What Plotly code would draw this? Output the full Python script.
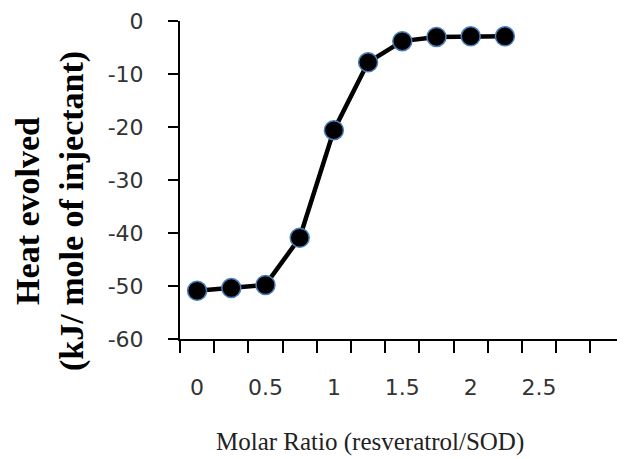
import plotly.graph_objects as go

molar_ratio = [0, 0.25, 0.5, 0.75, 1.0, 1.25, 1.5, 1.75, 2.0, 2.25]
heat_evolved = [-50.9, -50.4, -49.8, -40.9, -20.6, -7.8, -3.8, -3.0, -2.9, -2.9]
x_tick_labels = ["0", "0.5", "1", "1.5", "2", "2.5"]
x_tick_values = [0, 0.5, 1.0, 1.5, 2.0, 2.5]
x_boundary_ticks = [-0.125 + 0.25 * k for k in range(14)]
y_tick_values = [0, -10, -20, -30, -40, -50, -60]
y_tick_labels = ["0", "-10", "-20", "-30", "-40", "-50", "-60"]

fig = go.Figure()
fig.add_trace(go.Scatter(
    x=molar_ratio, y=heat_evolved, mode="lines+markers",
    line=dict(color="black", width=4.5),
    marker=dict(size=19, color="black", line=dict(color="#4a7ebb", width=1.5)),
    showlegend=False, cliponaxis=False,
))
# invisible trace to anchor xaxis2
fig.add_trace(go.Scatter(x=[0], y=[0], xaxis="x2", mode="markers",
                         marker=dict(opacity=0), showlegend=False, hoverinfo="skip"))

# page body has an 8px margin; plot area spans screen x 180..625, y 21..339
OFF = 8
L, T, B, R = 180 - OFF, 21 - OFF, 459 + OFF - 339, OFF
pw = 625 - 180
ph = 339 - 21

xr = [-0.125, 3.128]
fig.update_layout(
    width=625, height=459,
    margin=dict(l=L, r=R, t=T, b=B, autoexpand=False),
    paper_bgcolor="white", plot_bgcolor="white",
    xaxis=dict(range=xr, tickvals=x_boundary_ticks, ticktext=[""] * len(x_boundary_ticks),
               ticks="outside", ticklen=12, tickwidth=2, tickcolor="black",
               showline=True, linecolor="black", linewidth=2,
               showgrid=False, zeroline=False),
    xaxis2=dict(range=xr, overlaying="x", side="bottom", anchor="y",
                tickvals=x_tick_values, ticktext=x_tick_labels,
                ticks="outside", ticklen=29, tickcolor="rgba(0,0,0,0)",
                tickfont=dict(family="DejaVu Sans", size=22, color="#333333"),
                showline=False, showgrid=False, zeroline=False),
    yaxis=dict(range=[-60, 0], tickvals=y_tick_values, ticktext=y_tick_labels,
               ticks="outside", ticklen=10, tickwidth=2, tickcolor="black",
               showline=True, linecolor="black", linewidth=2,
               showgrid=False, zeroline=False, ticklabelstandoff=20,
               tickfont=dict(family="DejaVu Sans", size=22, color="#333333")),
    annotations=[
        dict(text="<b>Heat evolved<br>(kJ/ mole of injectant)</b>", textangle=-90,
             xref="paper", yref="paper", x=(50 - 180) / pw, y=(339 - 211) / ph,
             xanchor="center", yanchor="middle", showarrow=False,
             font=dict(family="Liberation Serif", size=34, color="black")),
        dict(text="Molar Ratio (resveratrol/SOD)",
             xref="paper", yref="paper", x=(370 - 180) / pw, y=(339 - 442) / ph,
             xanchor="center", yanchor="middle", showarrow=False,
             font=dict(family="Liberation Serif", size=25, color="#222222")),
    ],
)
fig.write_html("out.html")
